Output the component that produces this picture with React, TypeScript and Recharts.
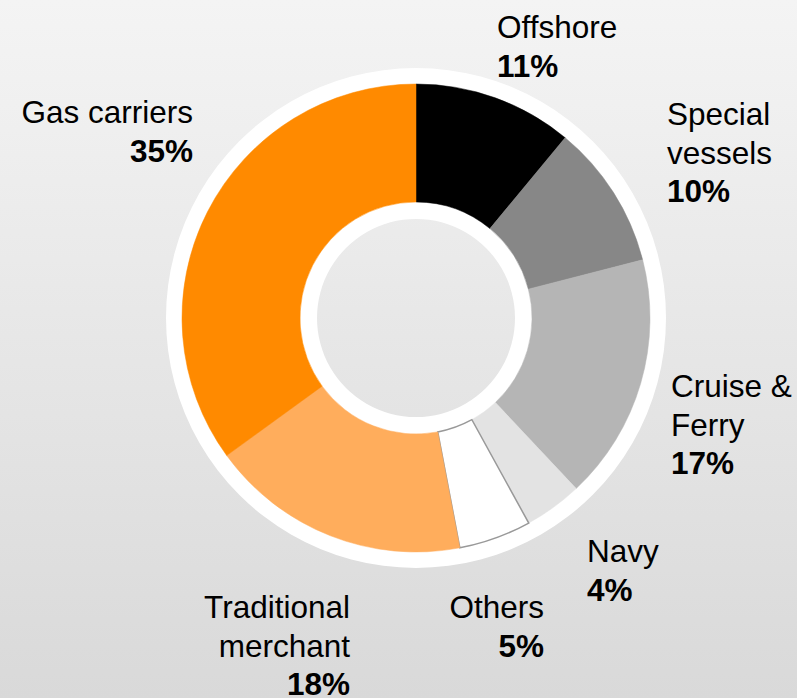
import { PieChart, Pie, Cell } from "recharts"

// fleet segments, clockwise from 12 o'clock
const segments = ["Offshore", "Special\nvessels", "Cruise &\nFerry", "Navy", "Others", "Traditional\nmerchant", "Gas carriers"]
const shares = [11, 10, 17, 4, 5, 18, 35]
const colors = ["#000000", "#878787", "#b5b5b5", "#e3e3e3", "#ffffff", "#ffad5c", "#ff8a00"]
const ring = [{ value: 1 }]

const data = segments.map((name, i) => ({ name, value: shares[i] }))

// label block placement relative to the pie centre
const labelPos: Record<string, { dx: number; dy: number; anchor: "start" | "end" }> = {
    "Offshore": { dx: 81, dy: -280, anchor: "start" },
    "Special\nvessels": { dx: 251, dy: -193, anchor: "start" },
    "Cruise &\nFerry": { dx: 255, dy: 79, anchor: "start" },
    "Navy": { dx: 171, dy: 244, anchor: "start" },
    "Others": { dx: 128, dy: 300, anchor: "end" },
    "Traditional\nmerchant": { dx: -66, dy: 300, anchor: "end" },
    "Gas carriers": { dx: -223, dy: -195, anchor: "end" },
}

const LINE = 38.5

const renderLabel = (props: any) => {
    const { cx, cy, name, value } = props
    const pos = labelPos[name]
    if (!pos) return null
    const lines = String(name).split("\n")
    const x = cx + pos.dx
    const y = cy + pos.dy
    return (
        <text x={x} y={y} textAnchor={pos.anchor} fill="#000" fontSize={31.5}
            fontFamily="'Liberation Sans', Arial, sans-serif">
            {lines.map((l, i) => (
                <tspan key={i} x={x} y={y + i * LINE}>{l}</tspan>
            ))}
            <tspan x={x} y={y + lines.length * LINE} fontWeight="bold">{value}%</tspan>
        </text>
    )
}

const App = () => {
    return (
        <div style={{
            position: "absolute", left: 0, top: 0, width: 797, height: 698,
            background: "linear-gradient(#f4f4f4, #d9d9d9)",
        }}>
            <PieChart width={797} height={698} margin={{ top: 0, right: 0, bottom: 0, left: 0 }}>
                <Pie data={ring} dataKey="value" cx={416} cy={318} innerRadius={232} outerRadius={250}
                    fill="#ffffff" stroke="none" isAnimationActive={false} />
                <Pie data={ring} dataKey="value" cx={416} cy={318} innerRadius={99} outerRadius={118}
                    fill="#ffffff" stroke="none" isAnimationActive={false} />
                <Pie data={data} dataKey="value" nameKey="name" cx={416} cy={318}
                    innerRadius={116} outerRadius={234} startAngle={90} endAngle={-270}
                    label={renderLabel} labelLine={false} isAnimationActive={false}>
                    {data.map((d, i) => (
                        <Cell key={d.name} fill={colors[i]}
                            stroke={d.name === "Others" ? "#999999" : colors[i]}
                            strokeWidth={d.name === "Others" ? 1.5 : 0.5} />
                    ))}
                </Pie>
            </PieChart>
        </div>
    )
}

export default App
